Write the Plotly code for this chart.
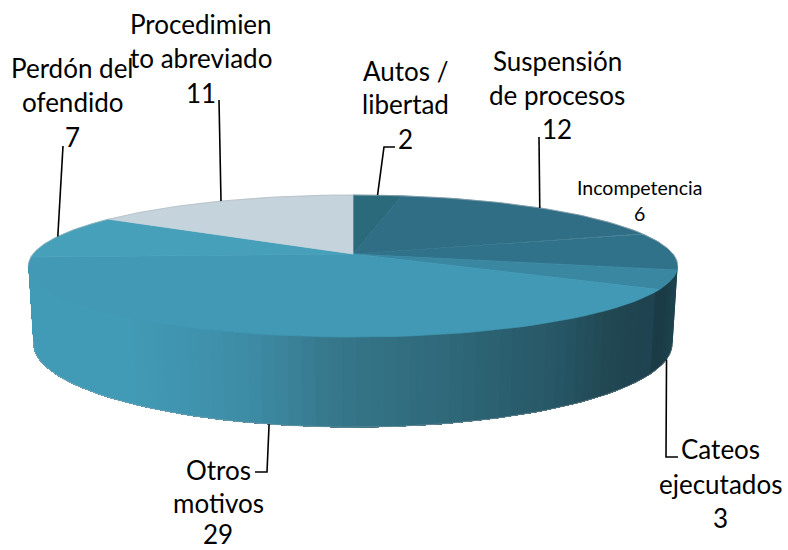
import numpy as np
import plotly.graph_objects as go

categories = ["Autos /\nlibertad", "Suspensión\nde procesos", "Incompetencia", "Cateos\nejecutados",
              "Otros\nmotivos", "Perdón del\nofendido", "Procedimien\nto abreviado"]
values = [2, 12, 6, 3, 29, 7, 11]

top_colors = ["#2A6A7B", "#2F6E85", "#30728A", "#3A87A2", "#4199B5", "#47A0BA", "#C5D3DC"]
wall_stops_x = [28, 130, 250, 330, 460, 560, 610, 655, 656, 664, 677]
wall_stops_c = ["#429BB6", "#429BB6", "#3E8CA6", "#37788C", "#2E6778", "#275766", "#214853", "#1F4350", "#1B3C47", "#1B3C47", "#1E4450"]

label_centers = [(405, [71, 104, 139]), (557, [61, 95, 129]), (639, [187, 213]), (720, [449, 484, 518]),
                 (218, [470, 503, 534]), (72, [68, 102, 137]), (201, [24, 58, 93])]
leader_paths = [
    [(384, 147), (395, 147)],
    [(539, 137)],
    [],
    [(666, 457), (678, 457)],
    [(267, 472), (255, 472)],
    [(63, 146)],
    [(219, 100)],
]

CX, CY, R, RB, A, B, H = 353, 254, 320, 315, 69, 0.169, 75

def hex2rgb(c):
    return np.array([int(c[i:i + 2], 16) for i in (1, 3, 5)], float)

def wall_color(x):
    rgb = [np.interp(x, wall_stops_x, [hex2rgb(c)[k] for c in wall_stops_c]) for k in range(3)]
    return "rgb(%d,%d,%d)" % tuple(rgb)

def top_pt(t):
    u, v = np.sin(t), -np.cos(t)
    d = 1 - B * v
    return CX + R * u / d, CY + A * v / d

def bot_pt(t):
    u, v = np.sin(t), -np.cos(t)
    d = 1 - B * v
    return CX + RB * u / d, CY + (A * v + H) / d

total = sum(values)
edges = np.concatenate([[0], np.cumsum(values)]) / total * 2 * np.pi
fig = go.Figure()

def poly(xs, ys, color, lw=0.0):
    fig.add_trace(go.Scatter(x=xs, y=ys, mode="lines", fill="toself", fillcolor=color,
                             line=dict(color=color, width=lw), hoverinfo="skip", showlegend=False))

# side wall: each band runs on to the far end and the next band paints over it, so no seams show
vis0 = np.arccos(-B)
vis1 = 2 * np.pi - vis0 + 0.02
ts = np.linspace(vis0, vis1, 80)
for k in range(len(ts) - 1):
    arc = ts[k:]
    tx, ty = top_pt(arc)
    bx, by = bot_pt(arc[::-1])
    ax = top_pt(np.array([ts[k], ts[k + 1]]))[0].mean()
    poly(np.r_[tx, bx, tx[0]], np.r_[ty, by, ty[0]], wall_color(ax))

# top faces
for i in range(len(values)):
    t = np.linspace(edges[i], edges[i + 1], 60)
    px, py = top_pt(t)
    poly(np.r_[CX, px, CX], np.r_[CY, py, CY], top_colors[i], 0.7)

# faint grey rim round the silhouette
back = np.linspace(vis1 - 0.02, vis0 + 2 * np.pi, 120)
front = np.linspace(vis0, vis1, 120)[::-1]
rx = np.r_[top_pt(back)[0], bot_pt(front[::-1])[0]]
ry = np.r_[top_pt(back)[1], bot_pt(front[::-1])[1]]
fig.add_trace(go.Scatter(x=top_pt(back)[0], y=top_pt(back)[1], mode="lines",
                         line=dict(color="rgba(170,180,185,0.7)", width=0.8), hoverinfo="skip", showlegend=False))
fig.add_trace(go.Scatter(x=bot_pt(front)[0], y=bot_pt(front)[1], mode="lines",
                         line=dict(color="rgba(170,180,185,0.6)", width=0.7), hoverinfo="skip", showlegend=False))

# leaders
for i, path in enumerate(leader_paths):
    if not path:
        continue
    mid = (edges[i] + edges[i + 1]) / 2
    start = bot_pt(mid) if -np.cos(mid) > 0.2 else top_pt(mid)
    xs = [start[0]] + [p[0] for p in path]
    ys = [start[1]] + [p[1] for p in path]
    fig.add_trace(go.Scatter(x=xs, y=ys, mode="lines", line=dict(color="#000000", width=1.6),
                             hoverinfo="skip", showlegend=False))

# labels
for i, cat in enumerate(categories):
    lines = cat.split("\n") + [str(values[i])]
    cx, ys = label_centers[i]
    for txt, y in zip(lines, ys):
        fig.add_annotation(x=cx, y=y, text=txt, showarrow=False, xanchor="center", yanchor="middle",
                           font=dict(family="Lato", size=19.5 if cat == "Incompetencia" else 26, color="#000000"))

fig.update_layout(width=788, height=550, margin=dict(l=0, r=0, t=0, b=0),
                  paper_bgcolor="white", plot_bgcolor="white", showlegend=False,
                  xaxis=dict(range=[0, 788], visible=False, fixedrange=True),
                  yaxis=dict(range=[550, 0], visible=False, fixedrange=True))
fig.write_html("out.html", config={"displayModeBar": False},
               post_script="document.body.style.margin='0';document.body.style.overflow='hidden';")
